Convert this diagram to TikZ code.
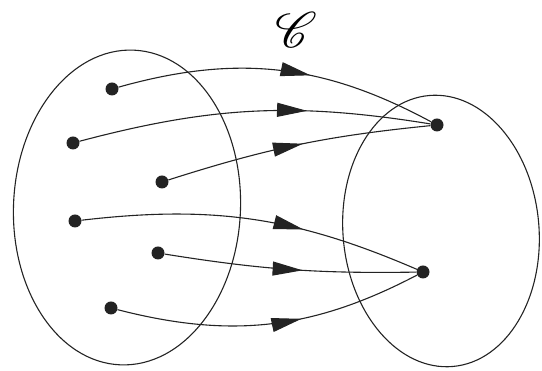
\documentclass[tikz,border=0pt]{standalone}
\usepackage{amsmath,amssymb,mathrsfs}
\usetikzlibrary{arrows.meta,decorations.markings}
\definecolor{ink}{RGB}{35,35,35}

\begin{document}
\begin{tikzpicture}[x=1pt,y=1pt,
  dot/.style={circle, fill=ink, inner sep=0pt, minimum size=13pt},
  rim/.style={draw=ink, line width=1.1pt},
  link/.style={draw=ink, line width=1.1pt, postaction={decorate,
      decoration={markings, mark=at position #1 with {\arrow[ink]{Triangle[length=30pt,width=14pt]}}}}}]
  \useasboundingbox (0,0) rectangle (542,371);

  \draw[rim, rotate around={-2.5:(127,163.5)}] (127,163.5) ellipse [x radius=113.5pt, y radius=157.5pt];
  \draw[rim, rotate around={5:(441,140)}] (441,140) ellipse [x radius=98pt, y radius=136pt];

  \node[scale=5, inner sep=0pt] (cat) at (296,341) {$\mathscr{C}$};

  \node[dot] (a1) at (112,282) {};
  \node[dot] (a2) at (73,228) {};
  \node[dot] (a3) at (162,189) {};
  \node[dot] (a4) at (75,150) {};
  \node[dot] (a5) at (158,118) {};
  \node[dot] (a6) at (111,63) {};
  \node[dot] (b1) at (437,246) {};
  \node[dot] (b2) at (423,99) {};

  \draw[link=0.6] (a1) to[bend left=22] (b1);
  \draw[link=0.65] (a2) to[bend left=12] (b1);
  \draw[link=0.52] (a3) to[bend left=6] (b1);
  \draw[link=0.65] (a4) to[bend left=15] (b2);
  \draw[link=0.55] (a5) to[bend right=5] (b2);
  \draw[link=0.6] (a6) to[bend right=21] (b2);
\end{tikzpicture}
\end{document}
